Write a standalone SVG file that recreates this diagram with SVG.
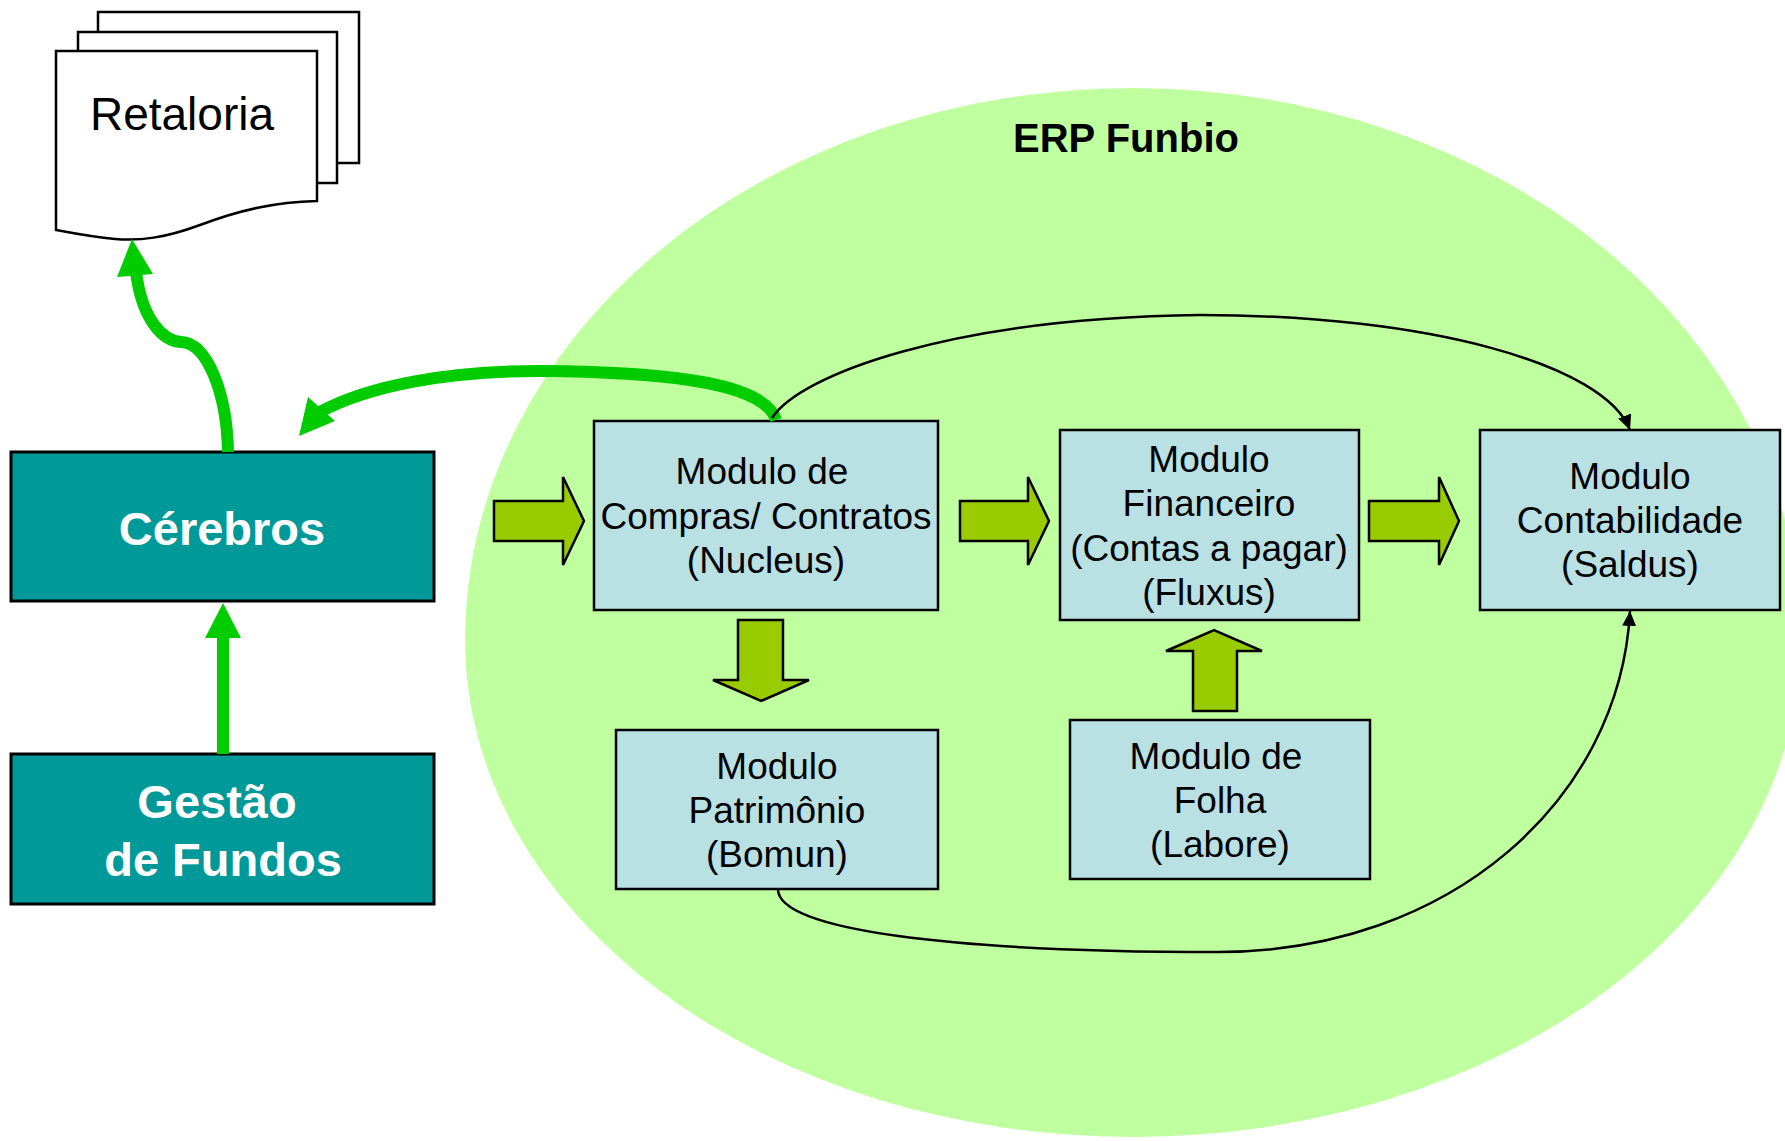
<svg xmlns="http://www.w3.org/2000/svg" width="1785" height="1141" viewBox="0 0 1785 1141">
<style>
.page{fill:#ffffff;stroke:#000;stroke-width:2.5}
.mod{fill:#B9E0E3;stroke:#000;stroke-width:2.5}
.teal{fill:#009999;stroke:#000;stroke-width:3}
.blk{fill:#99CC00;stroke:#000;stroke-width:2.5;stroke-linejoin:miter}
.t{font-family:"Liberation Sans",Arial,sans-serif;font-size:37px;fill:#000;text-anchor:middle}
.tw{font-family:"Liberation Sans",Arial,sans-serif;font-size:47px;font-weight:bold;fill:#fff;text-anchor:middle}
.g{fill:none;stroke:#00CC00;stroke-width:12}
.k{fill:none;stroke:#000;stroke-width:2.5}
</style>
<defs>
<marker id="ah" markerUnits="userSpaceOnUse" markerWidth="16" markerHeight="14" refX="15" refY="7" orient="auto">
<path d="M0,0 L15,7 L0,14 Z" fill="#000"/>
</marker>
</defs>
<rect width="1785" height="1141" fill="#fff"/>
<g id="erp">
<path d="M465,640 A668,552 0 0 1 1801,640 A668,497 0 0 1 465,640 Z" fill="#C0FFA0"/>
<text x="1126" y="152" style="font-family:'Liberation Sans',Arial,sans-serif;font-size:40px;font-weight:bold;text-anchor:middle">ERP Funbio</text>
</g>
<g id="retaloria">
<rect class="page" x="98" y="12" width="261" height="151"/>
<rect class="page" x="78" y="32" width="259" height="151"/>
<path class="page" d="M56,51 H317 V201 C275,202 240,210 200,225 C165,238 140,241 115,239 C92,237 72,233 56,230 Z"/>
<text x="182" y="130" style="font-family:'Liberation Sans',Arial,sans-serif;font-size:46px;text-anchor:middle">Retaloria</text>
</g>
<g id="cerebros">
<rect class="teal" x="11" y="452" width="423" height="149"/>
<text class="tw" x="222" y="545">Cérebros</text>
</g>
<g id="gestao">
<rect class="teal" x="11" y="754" width="423" height="150"/>
<text class="tw" x="217" y="818">Gestão</text>
<text class="tw" x="223" y="876">de Fundos</text>
</g>
<g id="compras">
<rect class="mod" x="594" y="421" width="344" height="189"/>
<text class="t" x="762" y="484">Modulo de</text>
<text class="t" x="766" y="529">Compras/ Contratos</text>
<text class="t" x="766" y="573">(Nucleus)</text>
</g>
<g id="financeiro">
<rect class="mod" x="1060" y="430" width="299" height="190"/>
<text class="t" x="1209" y="472">Modulo</text>
<text class="t" x="1209" y="516">Financeiro</text>
<text class="t" x="1209" y="561">(Contas a pagar)</text>
<text class="t" x="1209" y="605">(Fluxus)</text>
</g>
<g id="contabilidade">
<rect class="mod" x="1480" y="430" width="300" height="180"/>
<text class="t" x="1630" y="489">Modulo</text>
<text class="t" x="1630" y="533">Contabilidade</text>
<text class="t" x="1630" y="577">(Saldus)</text>
</g>
<g id="patrimonio">
<rect class="mod" x="616" y="730" width="322" height="159"/>
<text class="t" x="777" y="779">Modulo</text>
<text class="t" x="777" y="823">Patrimônio</text>
<text class="t" x="777" y="867">(Bomun)</text>
</g>
<g id="folha">
<rect class="mod" x="1070" y="720" width="300" height="159"/>
<text class="t" x="1216" y="769">Modulo de</text>
<text class="t" x="1220" y="813">Folha</text>
<text class="t" x="1220" y="857">(Labore)</text>
</g>
<g id="connectors">
<polygon class="blk" points="494,501 563,501 563,477 584,521 563,565 563,541 494,541"/>
<polygon class="blk" points="960,501 1028,501 1028,477 1049,521 1028,565 1028,541 960,541"/>
<polygon class="blk" points="1369,501 1439,501 1439,477 1459,521 1439,565 1439,541 1369,541"/>
<polygon class="blk" points="738,620 783,620 783,680 809,680 761,701 713,680 738,680"/>
<polygon class="blk" points="1193,711 1237,711 1237,651 1262,651 1214,630 1166,651 1193,651"/>
<path class="g" d="M223,754 V636"/>
<polygon fill="#00CC00" points="223,603 241,638 205,638"/>
<path class="g" d="M228,452 C227,395 208,343 181,342 C163,341 142,320 136,272"/>
<polygon fill="#00CC00" points="132,239 153,274 117,277"/>
<path class="g" d="M776,420 C765,385 680,372 540,371 C450,371 370,385 320,412"/>
<polygon fill="#00CC00" points="299,436 308,397 335,421"/>
<path class="k" marker-end="url(#ah)" d="M772,418 C800,375 950,318 1200,315 C1430,315 1605,365 1630,430"/>
<path class="k" marker-end="url(#ah)" d="M778,890 C780,930 950,952 1218,952 C1450,952 1620,800 1630,611"/>
</g>
</svg>
